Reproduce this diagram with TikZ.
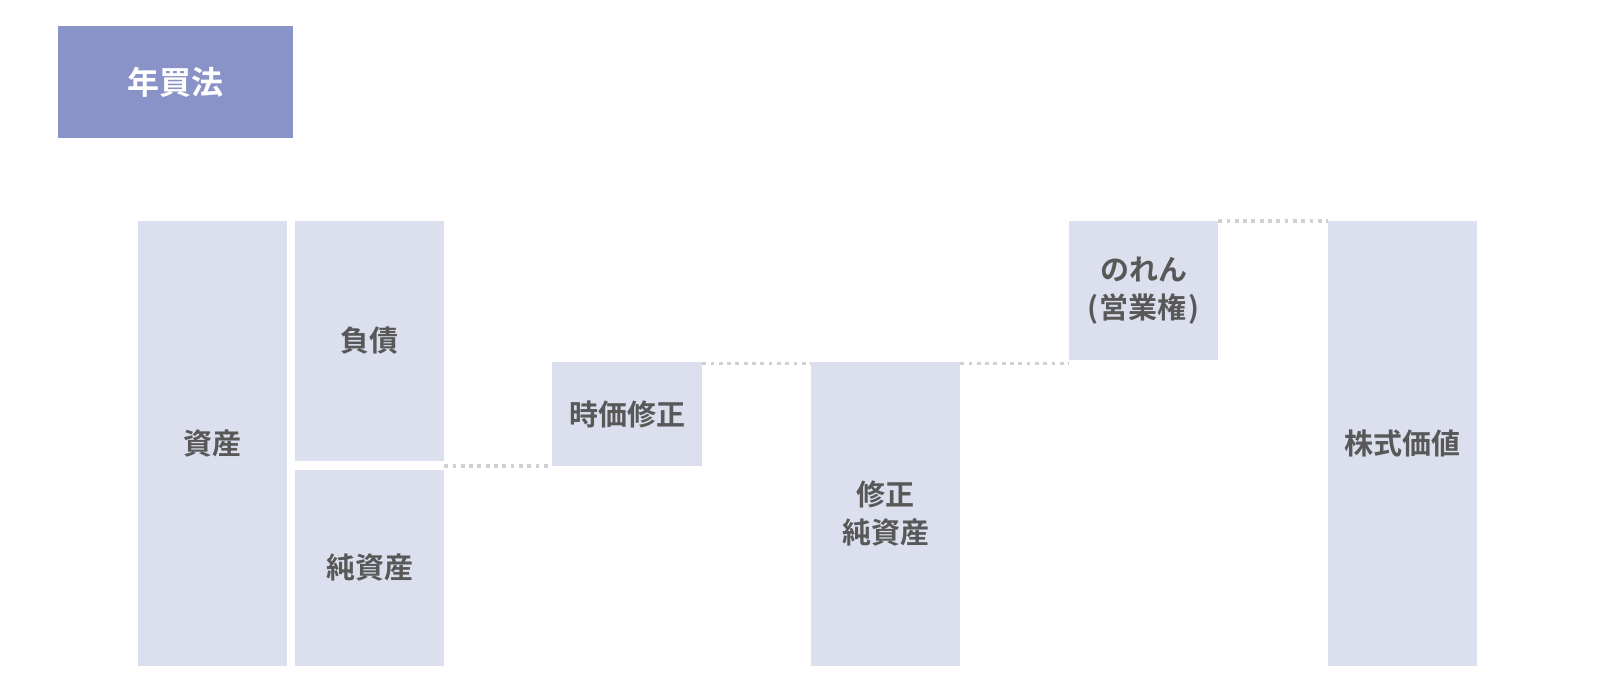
\documentclass[tikz,border=0pt]{standalone}
\usepackage{fontspec}
\setmainfont{Noto Sans CJK JP}[BoldFont={* Bold}]
\definecolor{boxfill}{HTML}{DCDFED}
\definecolor{titlefill}{HTML}{8A93C7}
\definecolor{txt}{HTML}{585858}
\definecolor{dotc}{HTML}{D0D0D0}
\tikzset{
  blk/.style={rectangle, fill=boxfill, draw=none, inner sep=0pt, text=txt,
    font=\fontsize{29}{38}\selectfont\bfseries, align=center},
  titlebox/.style={rectangle, fill=titlefill, draw=none, inner sep=0pt, text=white,
    font=\fontsize{32}{38}\selectfont\bfseries},
  dotline/.style={draw=dotc, line width=3.6pt, dash pattern=on 3.8pt off 4.5pt}
}
\begin{document}
\begin{tikzpicture}[x=1pt,y=-1pt]
\useasboundingbox[fill=white] (0,0) rectangle (1600,692);
\node[titlebox, minimum width=235pt, minimum height=112pt] (title) at (175.5,82) {年買法};
\node[blk, minimum width=149pt, minimum height=445pt] (assets) at (212.5,443.5) {資産};
\node[blk, minimum width=149pt, minimum height=240pt] (liab) at (369.5,341) {負債};
\node[blk, minimum width=149pt, minimum height=196pt] (net) at (369.5,568) {純資産};
\node[blk, minimum width=150pt, minimum height=104pt] (jika) at (627,414) {時価修正};
\node[blk, minimum width=149pt, minimum height=304pt] (shusei) at (885.5,514) {修正\\純資産};
\node[blk, minimum width=149pt, minimum height=139pt] (noren) at (1143.5,290.5) {のれん\\(\kern2pt 営業権\kern2pt)};
\node[blk, minimum width=149pt, minimum height=445pt] (kabu) at (1402.5,443.5) {株式価値};
\draw[dotline] (jika.south west -| liab.east) -- (jika.south west);
\draw[dotline] ([yshift=-1.5pt]jika.north east) -- ([yshift=-1.5pt]jika.north east -| shusei.west);
\draw[dotline] ([yshift=-1.5pt]shusei.north east) -- ([yshift=-1.5pt]shusei.north east -| noren.west);
\draw[dotline] (noren.north east) -- (kabu.north west);
\end{tikzpicture}
\end{document}
